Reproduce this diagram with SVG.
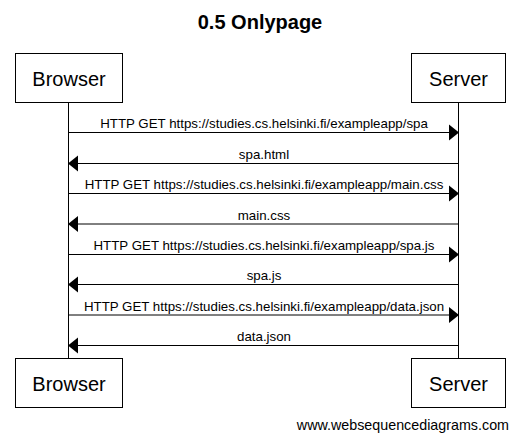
<svg xmlns="http://www.w3.org/2000/svg" width="519" height="442" viewBox="0 0 519 442">
<defs>
<style>
.box{fill:#fff;stroke:#000;stroke-width:1}
.life{stroke:#000;stroke-width:1;fill:none}
.msg{stroke:#000;stroke-width:1;fill:none}
.head{fill:#000;stroke:none}
.pt{font-family:"Liberation Sans",Arial,sans-serif;font-size:20px;fill:#000;text-anchor:middle}
.lbl{font-family:"Liberation Sans",Arial,sans-serif;font-size:13.3px;fill:#000;text-anchor:middle}
.title{font-family:"Liberation Sans",Arial,sans-serif;font-size:20px;font-weight:bold;fill:#000;text-anchor:middle}
.foot{font-family:"Liberation Sans",Arial,sans-serif;font-size:14.3px;fill:#000;text-anchor:end}
</style>
</defs>
<rect width="519" height="442" fill="#fff"/>
<text class="title" x="260" y="29">0.5 Onlypage</text>
<g id="lifelines">
<line class="life" x1="68.5" y1="102.5" x2="68.5" y2="358.5"/>
<line class="life" x1="458.5" y1="102.5" x2="458.5" y2="358.5"/>
</g>
<g id="browser-top"><rect class="box" x="15.5" y="53.5" width="107" height="49"/><text class="pt" x="69" y="86">Browser</text></g>
<g id="server-top"><rect class="box" x="411.5" y="53.5" width="94" height="49"/><text class="pt" x="458.5" y="86">Server</text></g>
<g id="browser-bottom"><rect class="box" x="15.5" y="358.5" width="107" height="49"/><text class="pt" x="69" y="391">Browser</text></g>
<g id="server-bottom"><rect class="box" x="411.5" y="358.5" width="94" height="49"/><text class="pt" x="458.5" y="391">Server</text></g>
<g id="connectors">
<line class="msg" x1="68.5" y1="132.5" x2="450" y2="132.5"/><polygon class="head" points="459,132.5 449,124.5 449,140.5"/>
<text class="lbl" x="264" y="128">HTTP GET https://studies.cs.helsinki.fi/exampleapp/spa</text>
<line class="msg" x1="77" y1="163.5" x2="458.5" y2="163.5"/><polygon class="head" points="68,163.5 78,155.5 78,171.5"/>
<text class="lbl" x="264" y="159">spa.html</text>
<line class="msg" x1="68.5" y1="193.5" x2="450" y2="193.5"/><polygon class="head" points="459,193.5 449,185.5 449,201.5"/>
<text class="lbl" x="264" y="189">HTTP GET https://studies.cs.helsinki.fi/exampleapp/main.css</text>
<line class="msg" x1="77" y1="224" x2="458.5" y2="224"/><polygon class="head" points="68,224 78,216 78,232"/>
<text class="lbl" x="264" y="219.5">main.css</text>
<line class="msg" x1="68.5" y1="254.5" x2="450" y2="254.5"/><polygon class="head" points="459,254.5 449,246.5 449,262.5"/>
<text class="lbl" x="264" y="250">HTTP GET https://studies.cs.helsinki.fi/exampleapp/spa.js</text>
<line class="msg" x1="77" y1="284.5" x2="458.5" y2="284.5"/><polygon class="head" points="68,284.5 78,276.5 78,292.5"/>
<text class="lbl" x="264" y="280">spa.js</text>
<line class="msg" x1="68.5" y1="315" x2="450" y2="315"/><polygon class="head" points="459,315 449,307 449,323"/>
<text class="lbl" x="264" y="310.5">HTTP GET https://studies.cs.helsinki.fi/exampleapp/data.json</text>
<line class="msg" x1="77" y1="345.5" x2="458.5" y2="345.5"/><polygon class="head" points="68,345.5 78,337.5 78,353.5"/>
<text class="lbl" x="264" y="341">data.json</text>
</g>
<text class="foot" x="509" y="430">www.websequencediagrams.com</text>
</svg>
